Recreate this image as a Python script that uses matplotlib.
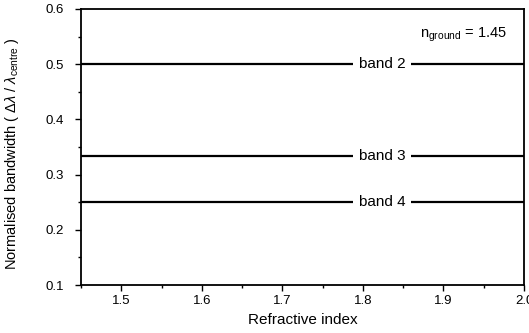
import matplotlib
matplotlib.use("Agg")
import matplotlib.pyplot as plt
from matplotlib.ticker import MultipleLocator

plt.rcParams['font.family'] = ['Liberation Sans', 'DejaVu Sans']
plt.rcParams['mathtext.fontset'] = 'custom'
plt.rcParams['mathtext.rm'] = 'Liberation Sans'
plt.rcParams['mathtext.it'] = 'Liberation Sans:italic'

# Normalised bandwidth of each band (independent of refractive index)
bands = ['band 2', 'band 3', 'band 4']
bandwidth = [0.5, 1 / 3, 0.25]
refractive_index = [1.45, 2.0]
label_x = 1.8235
n_ground = 1.45

fig = plt.figure(figsize=(5.29, 3.33), dpi=100)
ax = fig.add_axes([81 / 529, 1 - 285 / 333, (524 - 81) / 529, (285 - 9) / 333])

for name, bw in zip(bands, bandwidth):
    ax.plot(refractive_index, [bw, bw], color='black', lw=1.6, solid_capstyle='butt')
    ax.text(label_x, bw, name, ha='center', va='center', fontsize=11,
            bbox=dict(facecolor='white', edgecolor='none', pad=4.0))

ax.text(0.962, 0.905, r'n$_{\mathrm{ground}}$ = ' + f'{n_ground:.2f}',
        transform=ax.transAxes, ha='right', va='center', fontsize=10.5)

ax.set_xlim(1.45, 2.0)
ax.set_ylim(0.1, 0.6)
ax.xaxis.set_major_locator(MultipleLocator(0.1))
ax.xaxis.set_minor_locator(MultipleLocator(0.05))
ax.yaxis.set_major_locator(MultipleLocator(0.1))
ax.yaxis.set_minor_locator(MultipleLocator(0.05))
ax.tick_params(which='both', direction='out', labelsize=9.5, width=1.0)
ax.tick_params(which='major', length=4.5, pad=3)
ax.tick_params(which='minor', length=2.5)
ax.tick_params(axis='y', which='major', pad=8)
ax.set_xticks([1.5, 1.6, 1.7, 1.8, 1.9, 2.0])
ax.set_xticklabels(['1.5', '1.6', '1.7', '1.8', '1.9', '2.0'])

for sp in ax.spines.values():
    sp.set_linewidth(1.3)

ax.set_xlabel('Refractive index', fontsize=11, labelpad=4)
ax.set_ylabel(r'Normalised bandwidth ( $\mathit{\Delta\lambda}$ / $\mathit{\lambda}_{\mathrm{centre}}$ )',
              fontsize=10.5)
ax.yaxis.set_label_coords(-0.135, 0.475)

fig.savefig('out.png', dpi=100)
